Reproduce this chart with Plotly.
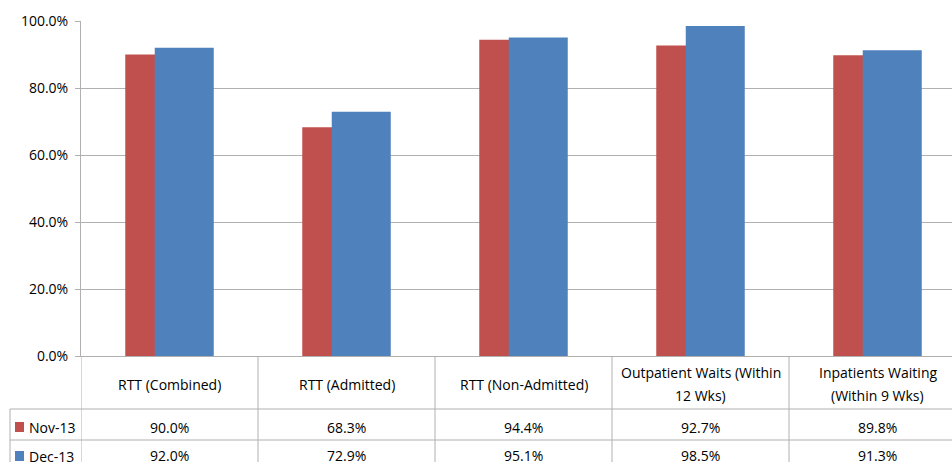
import plotly.graph_objects as go

categories = ["RTT (Combined)", "RTT (Admitted)", "RTT (Non-Admitted)",
              "Outpatient Waits (Within 12 Wks)", "Inpatients Waiting (Within 9 Wks)"]
category_lines = [["RTT (Combined)"], ["RTT (Admitted)"], ["RTT (Non-Admitted)"],
                  ["Outpatient Waits (Within", "12 Wks)"],
                  ["Inpatients Waiting", "(Within 9 Wks)"]]
series_names = ["Nov-13", "Dec-13"]
nov_values = [0.900, 0.683, 0.944, 0.927, 0.898]
dec_values = [0.920, 0.729, 0.951, 0.985, 0.913]
y_ticks = [0, 0.2, 0.4, 0.6, 0.8, 1.0]

RED = "#C0504D"
BLUE = "#4F81BD"
GRID = "#b0b0b0"
FONT = "Open Sans"
TFONT = dict(family=FONT, size=14, color="#000000")

W, H = 952, 462
ML, MT, MB = 81, 21, 106
plot_h = H - MT - MB
plot_w = W - ML
cat_px = 177.0

def py(px_y):
    return (H - MB - px_y) / plot_h

def pxp(px_x):
    return (px_x - ML) / plot_w

fig = go.Figure()
fig.add_trace(go.Bar(x=categories, y=nov_values, name=series_names[0],
                     marker=dict(color=RED, line=dict(width=0)),
                     width=1/3, offset=-0.25, hoverinfo="y"))
fig.add_trace(go.Bar(x=categories, y=dec_values, name=series_names[1],
                     marker=dict(color=BLUE, line=dict(width=0)),
                     width=1/3, offset=-1/12, hoverinfo="y"))

shapes = []
annotations = []
y_row1 = py(409)
y_row2 = py(440)
y_bottom = py(H + 5)

for i in range(len(categories)):
    shapes.append(dict(type="line", xref="x", yref="paper",
                       x0=i - 0.5, x1=i - 0.5, y0=0, y1=y_bottom,
                       line=dict(color=GRID, width=1)))
shapes.append(dict(type="line", xref="paper", yref="paper",
                   x0=pxp(10), x1=pxp(10), y0=y_row1, y1=y_bottom,
                   line=dict(color=GRID, width=1)))
for yy in (y_row1, y_row2):
    shapes.append(dict(type="line", xref="paper", yref="paper",
                       x0=pxp(10), x1=1.02, y0=yy, y1=yy,
                       line=dict(color=GRID, width=1)))

for c, lines in zip(categories, category_lines):
    if len(lines) == 1:
        ys = [384]
    else:
        ys = [372, 396]
    for t, ypx in zip(lines, ys):
        annotations.append(dict(x=c, y=py(ypx), xref="x", yref="paper",
                                text=t, showarrow=False, xanchor="center", yanchor="middle",
                                font=TFONT))
for vals, ypx in ((nov_values, 427), (dec_values, 455)):
    for c, v in zip(categories, vals):
        annotations.append(dict(x=c, y=py(ypx), xref="x", yref="paper",
                                text=f"{v*100:.1f}%", showarrow=False,
                                xanchor="center", yanchor="middle", font=TFONT))
for name, col, ypx in ((series_names[0], RED, 427), (series_names[1], BLUE, 456)):
    shapes.append(dict(type="rect", xref="paper", yref="paper",
                       x0=pxp(15), x1=pxp(24), y0=py(ypx + 5), y1=py(ypx - 5),
                       fillcolor=col, line=dict(width=0)))
    annotations.append(dict(x=pxp(27), y=py(ypx), xref="paper", yref="paper",
                            text=name, showarrow=False, xanchor="left", yanchor="middle",
                            font=TFONT))

fig.update_layout(
    width=W, height=H,
    margin=dict(l=ML, r=0, t=MT, b=MB, pad=0),
    paper_bgcolor="white", plot_bgcolor="white",
    barmode="overlay", showlegend=False,
    font=TFONT,
    shapes=shapes, annotations=annotations,
    xaxis=dict(type="category", range=[-0.5, -0.5 + plot_w / cat_px],
               showticklabels=False, showgrid=False, ticks="",
               showline=True, linecolor=GRID, linewidth=1, fixedrange=True),
    yaxis=dict(range=[0, 1], tickvals=y_ticks, tickformat=".1%",
               showgrid=True, gridcolor=GRID, gridwidth=1,
               showline=True, linecolor=GRID, linewidth=1,
               ticks="outside", ticklen=5, tickcolor=GRID,
               zeroline=False, ticklabelstandoff=4,
               tickfont=dict(family=FONT, size=14, color="#000000"),
               fixedrange=True),
)

fig.write_html("out.html", config={"displayModeBar": False})
